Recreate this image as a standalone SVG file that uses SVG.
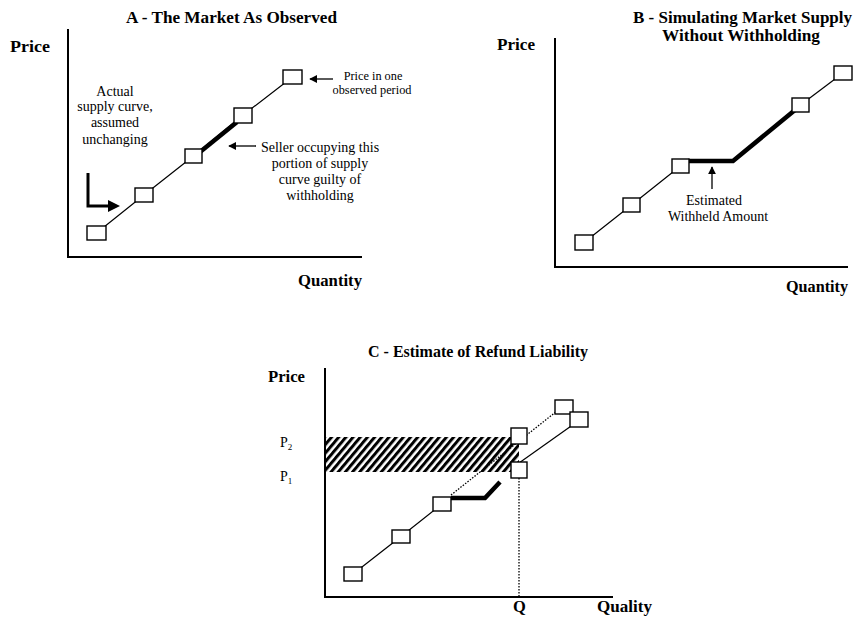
<svg xmlns="http://www.w3.org/2000/svg" width="854" height="619" viewBox="0 0 854 619">
<style>
text{font-family:"Liberation Serif","Times New Roman",serif;fill:#000}
.t{font-weight:bold;font-size:16.5px}
.ax{font-weight:bold;font-size:16.5px}
.n{font-size:14px}
.s{font-size:12.3px}
.axis{stroke:#000;stroke-width:2;fill:none}
.curve{stroke:#000;stroke-width:1.2;fill:none}
.thick{stroke:#000;stroke-width:4.5;fill:none}
.dot{stroke:#000;stroke-width:1.3;fill:none;stroke-dasharray:1.5 1.5}
.box{fill:#fff;stroke:#000;stroke-width:1.4}
.arr{stroke:#000;stroke-width:1.3;fill:none}
</style>
<defs>
<pattern id="hatch" patternUnits="userSpaceOnUse" width="5.5" height="5.5" patternTransform="rotate(40)">
<rect x="0" y="0" width="3" height="5.5" fill="#000"/>
</pattern>
<marker id="ah" viewBox="0 0 10 10" refX="9" refY="5" markerWidth="8" markerHeight="8" markerUnits="userSpaceOnUse" orient="auto">
<path d="M0,0 L10,5 L0,10 Z" fill="#000"/>
</marker>
</defs>

<!-- Panel A -->
<g id="panelA">
<text class="t" x="126" y="23" textLength="211" lengthAdjust="spacingAndGlyphs">A - The Market As Observed</text>
<text class="ax" x="10" y="52" textLength="40" lengthAdjust="spacingAndGlyphs">Price</text>
<text class="ax" x="298" y="286" textLength="64" lengthAdjust="spacingAndGlyphs">Quantity</text>
<path class="axis" d="M68,29 V257 H362"/>
<g class="n" text-anchor="middle">
<text x="115" y="96">Actual</text>
<text x="115" y="111">supply curve,</text>
<text x="115" y="127">assumed</text>
<text x="115" y="144">unchanging</text>
</g>
<g class="s" text-anchor="middle">
<text x="373" y="79.5">Price in one</text>
<text x="372" y="94">observed period</text>
</g>
<g class="n" text-anchor="middle">
<text x="320" y="152">Seller occupying this</text>
<text x="320" y="168">portion of supply</text>
<text x="320" y="184">curve guilty of</text>
<text x="320" y="200">withholding</text>
</g>
</g>
<g id="connectorsA">
<polyline class="curve" points="96.5,233 144,195 193.5,156 242.5,115.5 292.5,77"/>
<line class="thick" x1="200" y1="152" x2="237" y2="122"/>
<path d="M88,173 V206 H110" stroke="#000" stroke-width="3" fill="none"/>
<path d="M108,200 L120,206 L108,212 Z" fill="#000"/>
<line class="arr" x1="333" y1="79" x2="310" y2="79" marker-end="url(#ah)"/>
<line class="arr" x1="256" y1="146" x2="229" y2="146" marker-end="url(#ah)"/>
</g>
<g id="nodeA1"><rect class="box" x="87" y="226" width="19" height="14"/></g>
<g id="nodeA2"><rect class="box" x="135" y="188" width="18" height="14"/></g>
<g id="nodeA3"><rect class="box" x="185" y="149" width="17" height="14"/></g>
<g id="nodeA4"><rect class="box" x="234" y="108" width="18" height="15"/></g>
<g id="nodeA5"><rect class="box" x="283" y="70" width="19" height="14"/></g>

<!-- Panel B -->
<g id="panelB">
<text class="t" x="633" y="23" textLength="219" lengthAdjust="spacingAndGlyphs">B - Simulating Market Supply</text>
<text class="t" x="662" y="41" textLength="158" lengthAdjust="spacingAndGlyphs">Without Withholding</text>
<text class="ax" x="497" y="50" textLength="38" lengthAdjust="spacingAndGlyphs">Price</text>
<text class="ax" x="786" y="292" textLength="62" lengthAdjust="spacingAndGlyphs">Quantity</text>
<path class="axis" d="M555,38 V267 H848"/>
<g class="n" text-anchor="middle">
<text x="714" y="205">Estimated</text>
<text x="718" y="221">Withheld Amount</text>
</g>
</g>
<g id="connectorsB">
<polyline class="curve" points="584,242.5 631.5,205 680.5,166"/>
<polyline class="thick" points="688,161 733,161 795,110"/>
<line class="curve" x1="800.5" y1="105" x2="843" y2="73"/>
<line class="arr" x1="712" y1="189" x2="712" y2="167" marker-end="url(#ah)"/>
</g>
<g id="nodeB1"><rect class="box" x="575" y="235" width="18" height="15"/></g>
<g id="nodeB2"><rect class="box" x="623" y="198" width="17" height="14"/></g>
<g id="nodeB3"><rect class="box" x="672" y="159" width="17" height="14"/></g>
<g id="nodeB4"><rect class="box" x="792" y="98" width="17" height="14"/></g>
<g id="nodeB5"><rect class="box" x="834" y="66" width="18" height="14"/></g>

<!-- Panel C -->
<g id="panelC">
<text class="t" x="368" y="357" textLength="220" lengthAdjust="spacingAndGlyphs">C - Estimate of Refund Liability</text>
<text class="ax" x="268" y="382" textLength="37" lengthAdjust="spacingAndGlyphs">Price</text>
<rect x="325" y="437" width="194" height="35" fill="url(#hatch)"/>
<path class="axis" d="M325,368 V597 H613"/>
<text x="280" y="447" font-size="14">P<tspan font-size="9" dy="3">2</tspan></text>
<text x="280" y="481" font-size="14">P<tspan font-size="9" dy="3">1</tspan></text>
<text class="ax" x="513" y="612" font-size="14">Q</text>
<text class="ax" x="597" y="612" textLength="55" lengthAdjust="spacingAndGlyphs">Quality</text>
</g>
<g id="connectorsC">
<polyline class="curve" points="353,574 401,536.5 442,504"/>
<polyline class="thick" points="451,498 485,498 500,482"/>
<line class="dot" x1="451" y1="495" x2="557" y2="411"/>
<line class="curve" x1="519" y1="463" x2="574" y2="424"/>
<line class="dot" x1="519" y1="478" x2="519" y2="597"/>
</g>
<g id="nodeC1"><rect class="box" x="344" y="567" width="18" height="14"/></g>
<g id="nodeC2"><rect class="box" x="392" y="530" width="18" height="13"/></g>
<g id="nodeC3"><rect class="box" x="433" y="497" width="18" height="14"/></g>
<g id="nodeC4"><rect class="box" x="511" y="428" width="16" height="16"/></g>
<g id="nodeC5"><rect class="box" x="511" y="462" width="16" height="16"/></g>
<g id="nodeC6"><rect class="box" x="555" y="400" width="18" height="14"/></g>
<g id="nodeC7"><rect class="box" x="570" y="412" width="18" height="15"/></g>
</svg>
